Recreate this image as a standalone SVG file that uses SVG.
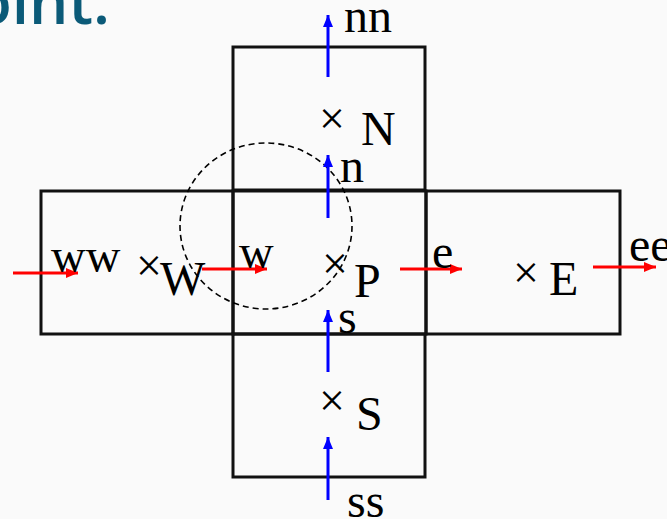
<svg xmlns="http://www.w3.org/2000/svg" width="667" height="519" viewBox="0 0 667 519">
<defs>
<marker id="ab" viewBox="0 0 12 10" refX="12" refY="5" markerWidth="12" markerHeight="10" markerUnits="userSpaceOnUse" orient="auto"><path d="M0,0 L12,5 L0,10 Z" fill="#0000ff"/></marker>
<marker id="ar" viewBox="0 0 12 10" refX="12" refY="5" markerWidth="12" markerHeight="10" markerUnits="userSpaceOnUse" orient="auto"><path d="M0,0 L12,5 L0,10 Z" fill="#ff0000"/></marker>
</defs>
<style>
.cell{fill:none;stroke:#111;stroke-width:3}
.lbl{font-family:"Liberation Serif",serif;font-size:48px;fill:#000}
.x{font-family:"Liberation Serif",serif;font-size:46px;fill:#000;text-anchor:middle}
.b{stroke:#0000ff;stroke-width:3;fill:none;marker-end:url(#ab)}
.r{stroke:#ff0000;stroke-width:3;fill:none;marker-end:url(#ar)}
</style>
<rect width="667" height="519" fill="#fafafa"/>
<text x="110" y="24" font-family="Open Sans, sans-serif" font-size="62" font-weight="600" fill="#0b5a78" text-anchor="end">Point.</text>
<g id="cell-N"><rect class="cell" x="233" y="47" width="192" height="143"/><text class="x" x="332" y="134">×</text><text class="lbl" x="361" y="145">N</text></g>
<g id="cell-W"><rect class="cell" x="41" y="191" width="192" height="143"/><text class="x" x="149" y="281">×</text><text class="lbl" x="160" y="295">W</text></g>
<g id="cell-P"><rect class="cell" x="233" y="191" width="193" height="143"/><text class="x" x="335" y="279">×</text><text class="lbl" x="354" y="297">P</text></g>
<g id="cell-E"><rect class="cell" x="426" y="191" width="194" height="143"/><text class="x" x="526" y="288">×</text><text class="lbl" x="549" y="295">E</text></g>
<g id="cell-S"><rect class="cell" x="233" y="334" width="192" height="143"/><text class="x" x="332" y="416">×</text><text class="lbl" x="356" y="430">S</text></g>
<g id="control-volume"><ellipse cx="266" cy="226" rx="86" ry="83" fill="none" stroke="#000" stroke-width="1.6" stroke-dasharray="6 4"/></g>
<g id="connectors">
<line class="b" x1="328" y1="77" x2="328" y2="15"/>
<line class="b" x1="328" y1="218" x2="328" y2="155"/>
<line class="b" x1="328" y1="372" x2="328" y2="310"/>
<line class="b" x1="328" y1="500" x2="328" y2="437"/>
<line class="r" x1="13" y1="273" x2="78" y2="273"/>
<line class="r" x1="202" y1="269" x2="267" y2="269"/>
<line class="r" x1="400" y1="269" x2="462" y2="269"/>
<line class="r" x1="593" y1="267" x2="656" y2="267"/>
</g>
<g id="labels">
<text class="lbl" x="344" y="32">nn</text>
<text class="lbl" x="340" y="182">n</text>
<text class="lbl" x="51" y="272">ww</text>
<text class="lbl" x="239" y="268">w</text>
<text class="lbl" x="432" y="268">e</text>
<text class="lbl" x="629" y="261">ee</text>
<text class="lbl" x="338" y="333">s</text>
<text class="lbl" x="347" y="517">ss</text>
</g>
</svg>
